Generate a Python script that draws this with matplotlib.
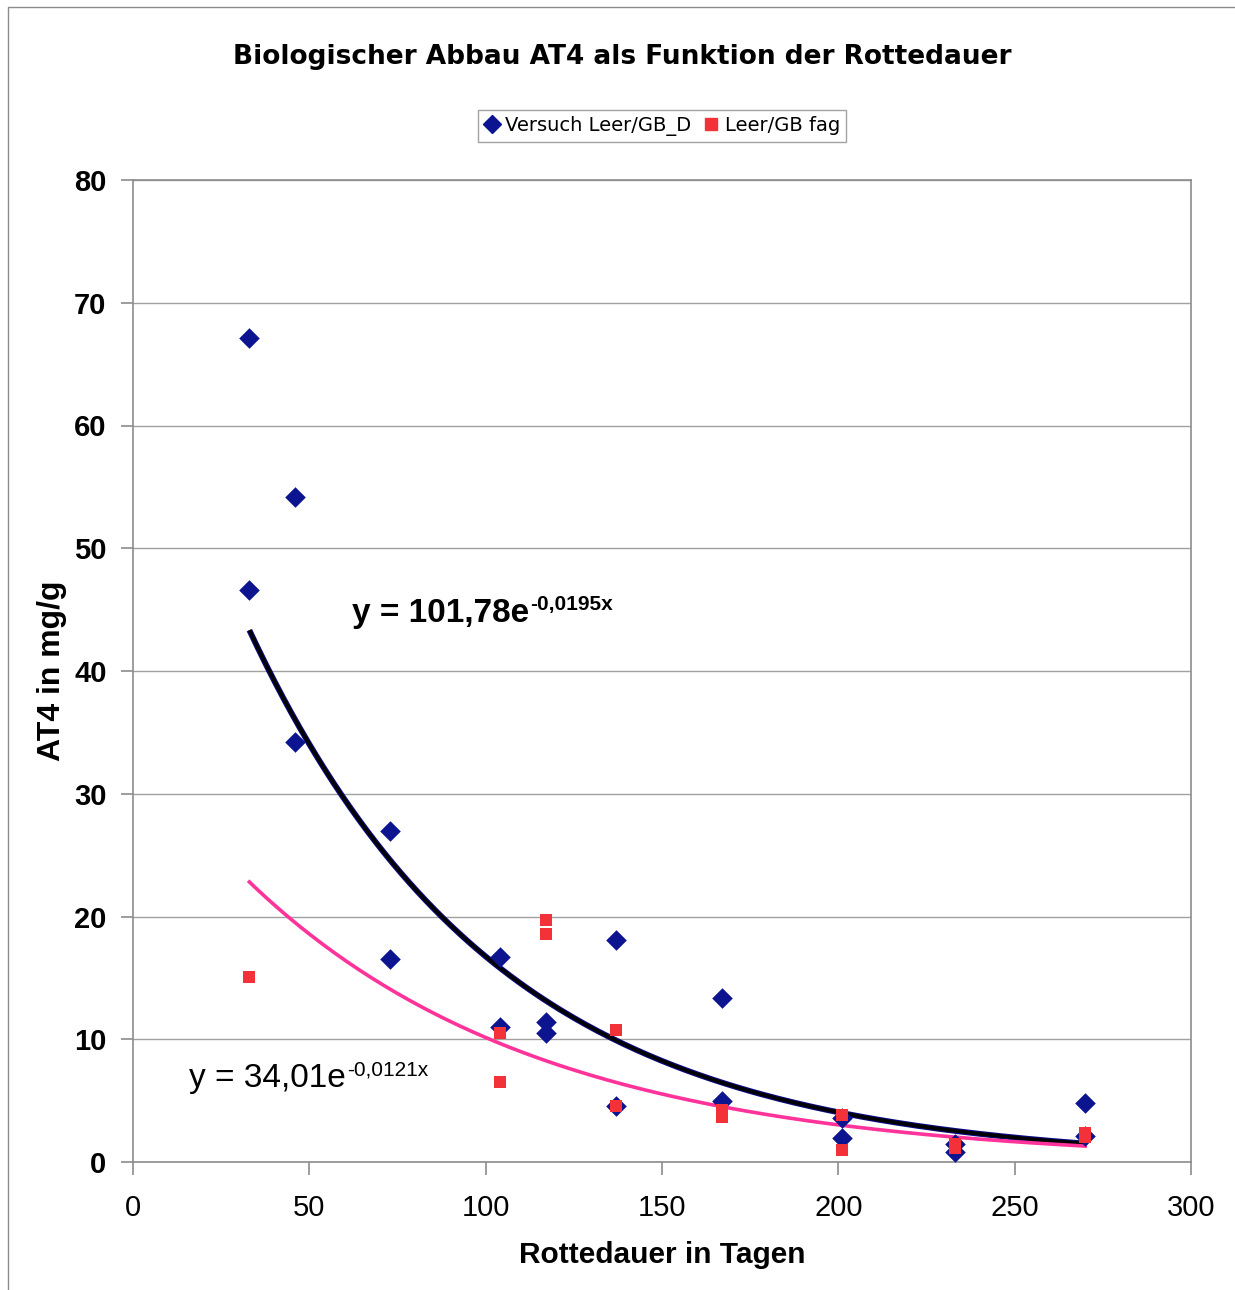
import numpy as np
import matplotlib
matplotlib.use("Agg")
import matplotlib.pyplot as plt
from matplotlib.patches import Rectangle
from matplotlib.lines import Line2D

# Data
days_d = [33, 33, 46, 46, 73, 73, 104, 104, 117, 117, 137, 137, 167, 167, 201, 201, 233, 233, 270, 270]
at4_d = [67.1, 46.6, 54.2, 34.2, 27.0, 16.5, 16.7, 11.0, 11.4, 10.5, 18.1, 4.6, 13.4, 5.0, 3.6, 1.95, 1.5, 0.8, 4.8, 2.1]

days_f = [33, 104, 104, 117, 117, 137, 137, 167, 167, 201, 201, 233, 233, 270, 270]
at4_f = [15.1, 10.5, 6.5, 19.7, 18.6, 10.75, 4.6, 4.2, 3.7, 3.8, 1.0, 1.5, 1.1, 2.4, 2.0]

# Trend curves as drawn (a * exp(-k x))
trend_d = (69.2, 0.01419)
trend_f = (34.01, 0.0121)
trend_range = (33, 270)

label_d = "Versuch Leer/GB_D"
label_f = "Leer/GB fag"
eq_d_main, eq_d_sup = "y = 101,78e", "-0,0195x"
eq_f_main, eq_f_sup = "y = 34,01e", "-0,0121x"

W, H = 1235, 1290
fig = plt.figure(figsize=(W / 100, H / 100), dpi=100)
fig.patches.append(Rectangle((8 / W, -0.1), 1.2, 1 - 7 / H + 0.1, transform=fig.transFigure,
                             fill=False, edgecolor="#8c8c8c", linewidth=1.0))

ax = fig.add_axes([133 / W, 1 - 1162 / H, (1191 - 133) / W, (1162 - 180) / H])
ax.set_xlim(0, 300)
ax.set_ylim(0, 80)
ax.set_xticks(np.arange(0, 301, 50))
ax.set_yticks(np.arange(0, 81, 10))
ax.yaxis.grid(True, color="#a0a0a0", linewidth=1.0)
ax.set_axisbelow(True)
for s in ax.spines.values():
    s.set_color("#8c8c8c")
    s.set_linewidth(1.2)
ax.tick_params(axis="both", direction="out", length=9, color="#8c8c8c", width=1.2)
ax.tick_params(axis="x", labelsize=21, pad=14)
ax.tick_params(axis="y", labelsize=21, pad=10)
for t in ax.get_xticklabels():
    t.set_fontfamily("Liberation Sans")
for t in ax.get_yticklabels():
    t.set_fontfamily("Liberation Sans")
    t.set_fontweight("bold")

xs = np.linspace(trend_range[0], trend_range[1], 200)
ax.plot(xs, trend_d[0] * np.exp(-trend_d[1] * xs), color="#0a0a80", linewidth=4.2, zorder=3, solid_capstyle="butt")
ax.plot(xs, trend_d[0] * np.exp(-trend_d[1] * xs), color="black", linewidth=2.6, zorder=3.1, solid_capstyle="butt")
ax.plot(xs, trend_f[0] * np.exp(-trend_f[1] * xs), color="#ff3399", linewidth=2.6, zorder=3.2)

ax.scatter(days_d, at4_d, marker="D", s=110, color="#0d1490", zorder=4, linewidths=0)
ax.scatter(days_f, at4_f, marker="s", s=85, color="#f23238", zorder=5, linewidths=0)

t1 = ax.text(62, 44.0, eq_d_main, fontsize=24, fontweight="bold", family="Liberation Sans", va="baseline")
ax.annotate(eq_d_sup, xy=(1, 1), xycoords=t1, xytext=(1, 2), textcoords="offset points",
            fontsize=15, fontweight="bold", family="Liberation Sans", ha="left", va="top")
t2 = ax.text(16, 6.1, eq_f_main, fontsize=24, family="Liberation Sans", va="baseline")
ax.annotate(eq_f_sup, xy=(1, 1), xycoords=t2, xytext=(1, 2), textcoords="offset points",
            fontsize=15, family="Liberation Sans", ha="left", va="top")

ax.set_xlabel("Rottedauer in Tagen", fontsize=21.5, fontweight="bold", family="Liberation Sans", labelpad=14)
ax.set_ylabel("AT4 in mg/g", fontsize=23, fontweight="bold", family="Liberation Sans", labelpad=5)

fig.text(622 / W, 1 - 57 / H, "Biologischer Abbau AT4 als Funktion der Rottedauer",
         ha="center", va="center", fontsize=19, fontweight="bold", family="DejaVu Sans")

handles = [Line2D([], [], marker="D", linestyle="none", color="#0d1490", markersize=9),
           Line2D([], [], marker="s", linestyle="none", color="#f23238", markersize=8)]
leg = fig.legend(handles, [label_d, label_f], loc="center", bbox_to_anchor=(662 / W, 1 - 126 / H),
                 ncol=2, frameon=True, fancybox=False, prop={"family": "DejaVu Sans", "size": 14},
                 handlelength=0.8, handletextpad=0.3, columnspacing=0.6, borderpad=0.3)
leg.get_frame().set_edgecolor("#8c8c8c")
leg.get_frame().set_linewidth(1.0)

fig.savefig("out.png", dpi=100, facecolor="white")
